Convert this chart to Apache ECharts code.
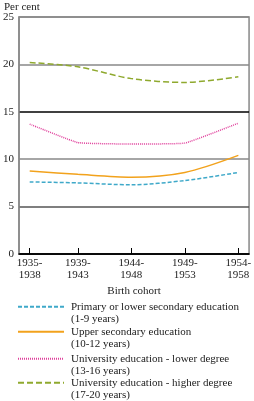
<!DOCTYPE html>
<html>
<head>
<meta charset="utf-8">
<script src="https://cdn.jsdelivr.net/npm/echarts@6/dist/echarts.min.js"></script>
<style>
  html, body { margin: 0; padding: 0; background: #fff; }
  #main { width: 254px; height: 401px; }
</style>
</head>
<body>
<div id="main"></div>
<script>
var myChart = echarts.init(document.getElementById('main'));

// birth cohorts, plotted at the middle year of each cohort
const cohortLabels = ['1935-\n1938', '1939-\n1943', '1944-\n1948', '1949-\n1953', '1954-\n1958'];
const cohortMid = [1936.5, 1941, 1946, 1951, 1956];

const primary = [7.6, 7.5, 7.3, 7.75, 8.6];
const upperSecondary = [8.75, 8.4, 8.1, 8.6, 10.4];
const uniLower = [13.7, 11.75, 11.6, 11.7, 13.8];
const uniHigher = [20.2, 19.75, 18.5, 18.1, 18.7];

const seriesNames = [
  'Primary or lower secondary education\n(1-9 years)',
  'Upper secondary education\n(10-12 years)',
  'University education - lower degree\n(13-16 years)',
  'University education - higher degree\n(17-20 years)'
];

function pairs(vals) {
  return vals.map(function (v, i) { return [cohortMid[i], v]; });
}

const font = 'Liberation Serif';

// one legend block per series; a leading empty line keeps the
// line sample level with the first line of the two-line text
const legendTops = [283, 308, 335, 359];
const legends = seriesNames.map(function (name, i) {
  return {
    orient: 'vertical',
    left: 12,
    top: legendTops[i],
    itemWidth: 46,
    itemHeight: 10,
    data: [name],
    itemStyle: { opacity: 0 },
    formatter: function (n) { return '\n' + n; },
    textStyle: {
      fontFamily: font,
      fontSize: 11,
      color: '#222',
      lineHeight: 12.5,
      padding: [0, 0, 0, 2]
    }
  };
});

const option = {
  animation: false,
  title: {
    text: 'Per cent',
    left: -1,
    top: -3,
    textStyle: { fontFamily: font, fontSize: 11, fontWeight: 'normal', color: '#222' }
  },
  grid: {
    left: 15,
    right: 4,
    top: 17,
    bottom: 147,
    show: true,
    borderColor: '#888',
    borderWidth: 1.5
  },
  xAxis: {
    type: 'value',
    min: 1935.5,
    max: 1957,
    name: 'Birth cohort',
    nameLocation: 'middle',
    nameGap: 26,
    nameTextStyle: { fontFamily: font, fontSize: 11, color: '#222' },
    axisLine: { lineStyle: { color: '#000', width: 1.5 } },
    axisTick: { inside: true, length: 6, customValues: cohortMid, lineStyle: { color: '#000' } },
    axisLabel: {
      customValues: cohortMid,
      fontFamily: font,
      fontSize: 11,
      color: '#222',
      lineHeight: 12,
      margin: 3,
      formatter: function (v) {
        var i = cohortMid.indexOf(v);
        return i >= 0 ? cohortLabels[i] : '';
      }
    },
    splitLine: { show: false }
  },
  yAxis: {
    type: 'value',
    min: 0,
    max: 25,
    interval: 5,
    axisLine: { show: true, lineStyle: { color: '#888', width: 1.5 } },
    axisTick: { show: false },
    axisLabel: { fontFamily: font, fontSize: 11, color: '#222', margin: 5 },
    splitLine: {
      lineStyle: { color: ['#000', '#555', '#888', '#000', '#888', '#888'], width: 1.5 }
    }
  },
  legend: legends,
  series: [
    {
      name: seriesNames[0],
      type: 'line',
      data: pairs(primary),
      smooth: 0.3,
      symbol: 'none',
      color: '#3fa9c9',
      lineStyle: { width: 1.5, type: [4, 2] }
    },
    {
      name: seriesNames[1],
      type: 'line',
      data: pairs(upperSecondary),
      smooth: 0.3,
      symbol: 'none',
      color: '#f2a21c',
      lineStyle: { width: 1.5 }
    },
    {
      name: seriesNames[2],
      type: 'line',
      data: pairs(uniLower),
      smooth: 0.1,
      symbol: 'none',
      color: '#e0409c',
      lineStyle: { width: 1.5, type: [1, 1] }
    },
    {
      name: seriesNames[3],
      type: 'line',
      data: pairs(uniHigher),
      smooth: 0.3,
      symbol: 'none',
      color: '#8fa92e',
      lineStyle: { width: 1.5, type: [6, 3] }
    }
  ]
};

myChart.setOption(option);
</script>
</body>
</html>
